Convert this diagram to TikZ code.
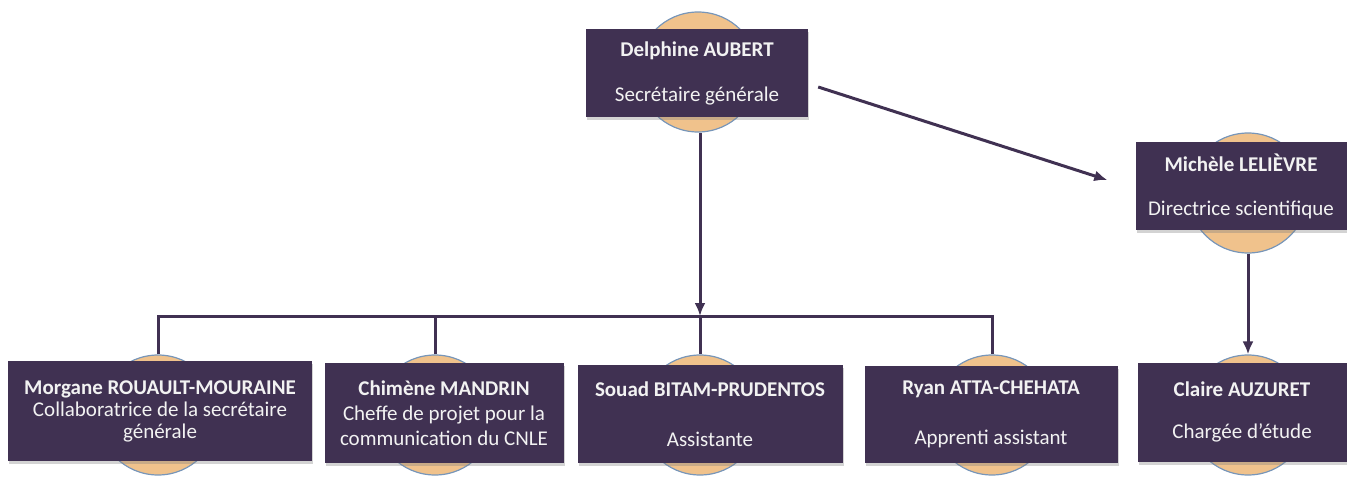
\documentclass[tikz,border=0pt]{standalone}
\usepackage{fontspec}
\setmainfont{Carlito}
\usepackage{tikz}
\usepackage{xcolor}
\usetikzlibrary{arrows.meta, positioning, calc, shadows}

\definecolor{prune}{RGB}{64,49,82}
\definecolor{abricot}{RGB}{240,194,140}
\definecolor{liseret}{RGB}{120,150,185}

\tikzset{
  poste/.style={fill=prune, text=white!95!black, inner sep=2pt, align=center,
    minimum height=88pt, font=\fontsize{21}{24}\selectfont,
    drop shadow={shadow xshift=1pt, shadow yshift=-3pt, opacity=0.35}},
  disque/.style={circle, fill=abricot, draw=liseret, line width=1.2pt,
    minimum size=120pt, inner sep=0pt},
  lien/.style={draw=prune, line width=3pt},
  fleche/.style={lien, -{Latex[length=13pt,width=11pt]}}
}

\begin{document}
\begin{tikzpicture}[x=1pt, y=-1pt]
\useasboundingbox (0,0) rectangle (1347,479);

% Disques derriere les cadres
\node[disque] (cdel) at (698,72) {};
\node[disque] (cmic) at (1248,193) {};
\node[disque] (cmor) at (158,415) {};
\node[disque] (cchi) at (435,415) {};
\node[disque] (csou) at (700,415) {};
\node[disque] (crya) at (992,415) {};
\node[disque] (ccla) at (1248,415) {};

% Cadres
\node[poste, minimum width=222pt] (delphine) at (697,73)
  {\textbf{Delphine AUBERT}\\[21pt]Secrétaire générale};
\node[poste, minimum width=211pt] (michele) at (1241,186)
  {\textbf{Michèle LELIÈVRE}\\[20pt]Directrice scientifique};
\node[poste, minimum width=304pt, minimum height=100pt,
  font=\fontsize{21}{22}\selectfont] (morgane) at (160,411)
  {\textbf{Morgane ROUAULT-MOURAINE}\\Collaboratrice de la secrétaire\\générale};
\node[poste, minimum width=239pt, minimum height=100pt,
  font=\fontsize{21}{25}\selectfont] (chimene) at (444,413)
  {\textbf{Chimène MANDRIN}\\Cheffe de projet pour la\\communication du CNLE};
\node[poste, minimum width=265pt, minimum height=98pt] (souad) at (710,414)
  {\textbf{Souad BITAM-PRUDENTOS}\\[26pt]Assistante};
\node[poste, minimum width=253pt, minimum height=97pt] (ryan) at (991,414)
  {\textbf{Ryan ATTA-CHEHATA}\\[26pt]Apprenti assistant};
\node[poste, minimum width=209pt, minimum height=99pt] (claire) at (1242,412)
  {\textbf{Claire AUZURET}\\[18pt]Chargée d’étude};

% Liaisons
\coordinate (bus) at (700,316);
\draw[lien] (cmor.north) |- (bus) -| (crya.north);
\draw[lien] (cchi.north) -- (cchi.north |- bus);
\draw[lien] (bus) -- (csou.north);
\draw[fleche] (cdel.south -| bus) -- (bus);
\draw[fleche] ([xshift=10pt, yshift=-14pt]delphine.east) -- ([xshift=-28pt, yshift=6pt]michele.west);
\draw[fleche] (cmic.south) -- (ccla.north);
\end{tikzpicture}
\end{document}
